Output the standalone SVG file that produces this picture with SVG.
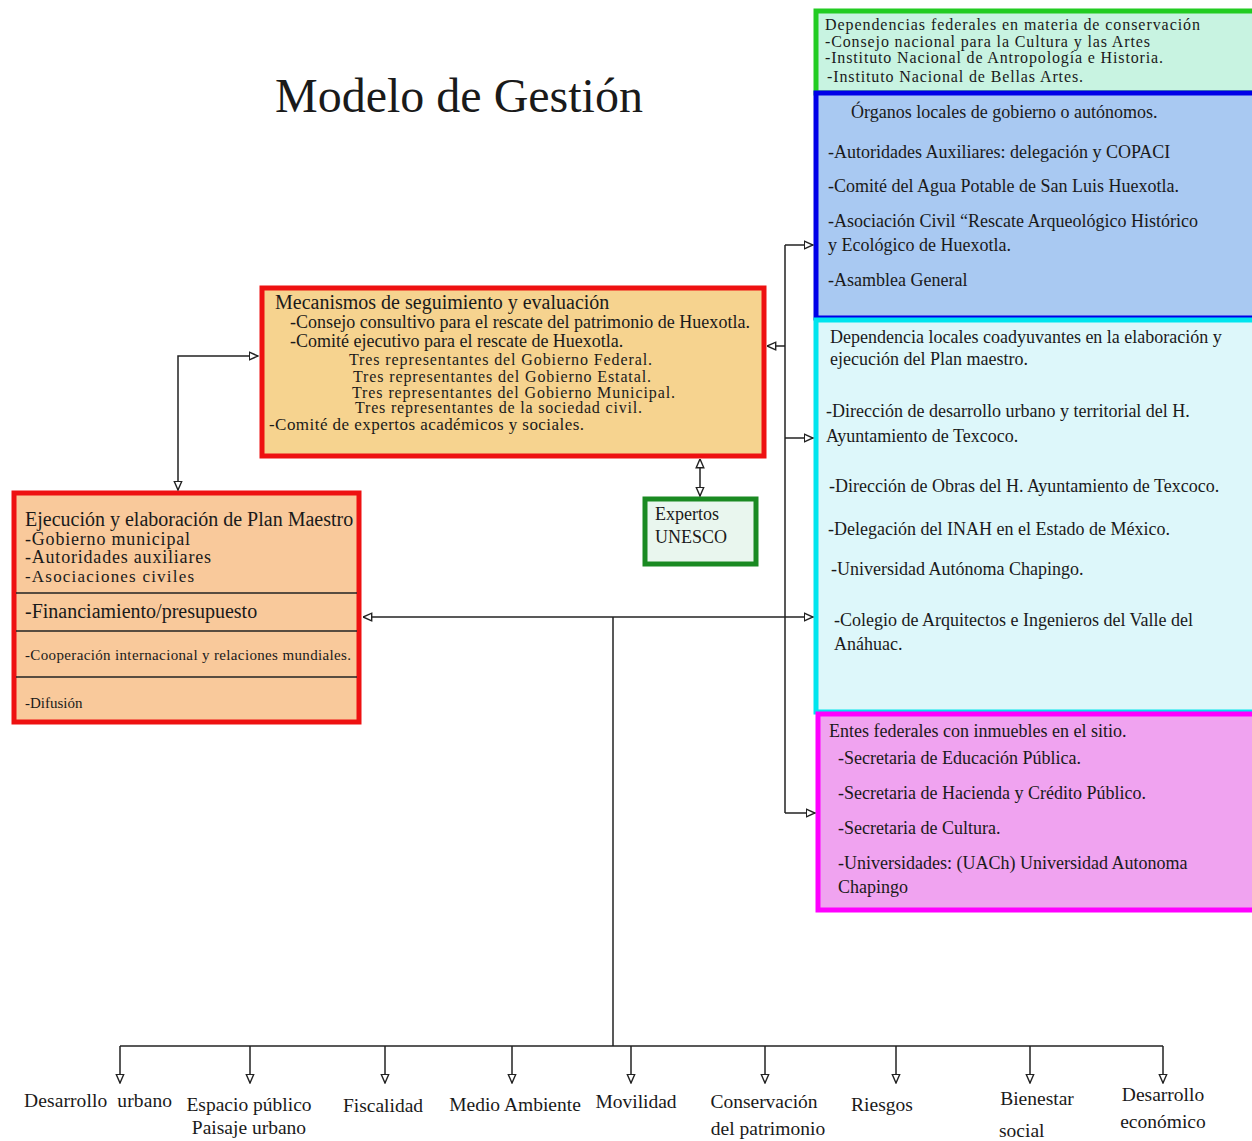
<svg xmlns="http://www.w3.org/2000/svg" width="1252" height="1141" viewBox="0 0 1252 1141">
<style>
text{font-family:"Liberation Serif","Times New Roman",serif;fill:#1a1a1a}
.t16{font-size:16px}
.t17{font-size:17px}
.t18{font-size:18px}
.t20{font-size:20px}
.t15{font-size:15px}
.lbl{font-size:19.5px}
.c{fill:none;stroke:#222;stroke-width:1.5}
</style>
<defs>
<marker id="ah" viewBox="0 0 10 10" refX="9.5" refY="5" markerWidth="10" markerHeight="10" markerUnits="userSpaceOnUse" orient="auto-start-reverse">
<path d="M0.8,1.2 L9.5,5 L0.8,8.8 Z" fill="#fff" stroke="#222" stroke-width="1.4"/>
</marker>
</defs>
<rect width="1252" height="1141" fill="#fff"/>
<text x="275" y="112" style="font-size:48px">Modelo de Gestión</text>

<g id="federales">
<rect x="816" y="11" width="440" height="82" fill="#c8f3e1" stroke="#22cc22" stroke-width="5"/>
<text class="t16" x="825" y="30" textLength="375">Dependencias federales en materia de conservación</text>
<text class="t16" x="825" y="47" textLength="325">-Consejo nacional para la Cultura y las Artes</text>
<text class="t16" x="825" y="63" textLength="338">-Instituto Nacional de Antropología e Historia.</text>
<text class="t16" x="827" y="82" textLength="256">-Instituto Nacional de Bellas Artes.</text>
</g>

<g id="organos">
<rect x="816" y="93" width="440" height="225" fill="#a9c9f2" stroke="#0000e8" stroke-width="5"/>
<text class="t18" x="851" y="118">Órganos locales de gobierno o autónomos.</text>
<text class="t18" x="828" y="158">-Autoridades Auxiliares: delegación y COPACI</text>
<text class="t18" x="828" y="192">-Comité del Agua Potable de San Luis Huexotla.</text>
<text class="t18" x="828" y="227">-Asociación Civil “Rescate Arqueológico Histórico</text>
<text class="t18" x="828" y="251">y Ecológico de Huexotla.</text>
<text class="t18" x="828" y="286">-Asamblea General</text>
</g>

<g id="dependencias">
<rect x="816" y="320" width="440" height="392" fill="#ddf7fa" stroke="#00e5ee" stroke-width="5"/>
<text class="t18" x="830" y="343">Dependencia locales coadyuvantes en la elaboración y</text>
<text class="t18" x="830" y="365">ejecución del Plan maestro.</text>
<text class="t18" x="826" y="417">-Dirección de desarrollo urbano y territorial del H.</text>
<text class="t18" x="826" y="442">Ayuntamiento de Texcoco.</text>
<text class="t18" x="829" y="492">-Dirección de Obras del H. Ayuntamiento de Texcoco.</text>
<text class="t18" x="828" y="535">-Delegación del INAH en el Estado de México.</text>
<text class="t18" x="831" y="575">-Universidad Autónoma Chapingo.</text>
<text class="t18" x="834" y="626">-Colegio de Arquitectos e Ingenieros del Valle del</text>
<text class="t18" x="834" y="650">Anáhuac.</text>
</g>

<g id="entes">
<rect x="818" y="714" width="438" height="196" fill="#f0a3f0" stroke="#ff00ff" stroke-width="5"/>
<text class="t18" x="829" y="737">Entes federales con inmuebles en el sitio.</text>
<text class="t18" x="838" y="764">-Secretaria de Educación Pública.</text>
<text class="t18" x="838" y="799">-Secretaria de Hacienda y Crédito Público.</text>
<text class="t18" x="838" y="834">-Secretaria de Cultura.</text>
<text class="t18" x="838" y="869">-Universidades: (UACh) Universidad Autonoma</text>
<text class="t18" x="838" y="893">Chapingo</text>
</g>

<g id="mecanismos">
<rect x="262" y="288" width="502" height="168" fill="#f6d38f" stroke="#ee1111" stroke-width="5"/>
<text class="t20" x="275" y="309">Mecanismos de seguimiento y evaluación</text>
<text class="t18" x="290" y="328" textLength="460">-Consejo consultivo para el rescate del patrimonio de Huexotla.</text>
<text class="t18" x="290" y="347">-Comité ejecutivo para el rescate de Huexotla.</text>
<text class="t16" x="349" y="365" textLength="303">Tres representantes del Gobierno Federal.</text>
<text class="t16" x="353" y="382" textLength="298">Tres representantes del Gobierno Estatal.</text>
<text class="t16" x="352" y="398" textLength="323">Tres representantes del Gobierno Municipal.</text>
<text class="t16" x="355" y="413" textLength="287">Tres representantes de la sociedad civil.</text>
<text class="t17" x="269" y="430" textLength="315">-Comité de expertos académicos y sociales.</text>
</g>

<g id="plan">
<rect x="14" y="493" width="345" height="229" fill="#f9c99b" stroke="#ee1111" stroke-width="5"/>
<text class="t20" x="25" y="526">Ejecución y elaboración de Plan Maestro</text>
<text class="t18" x="25" y="545" textLength="165">-Gobierno municipal</text>
<text class="t18" x="25" y="563" textLength="186">-Autoridades auxiliares</text>
<text class="t17" x="25" y="582" textLength="169">-Asociaciones civiles</text>
<line x1="16" y1="593" x2="357" y2="593" stroke="#222" stroke-width="1.5"/>
<text class="t20" x="25" y="618">-Financiamiento/presupuesto</text>
<line x1="16" y1="631" x2="357" y2="631" stroke="#222" stroke-width="1.5"/>
<text class="t15" x="25" y="660" textLength="326">-Cooperación internacional y relaciones mundiales.</text>
<line x1="16" y1="677" x2="357" y2="677" stroke="#222" stroke-width="1.5"/>
<text class="t15" x="25" y="708">-Difusión</text>
</g>

<g id="unesco">
<rect x="645" y="499" width="111" height="65" fill="#e9f6ee" stroke="#1a8a22" stroke-width="5"/>
<text class="t18" x="655" y="520">Expertos</text>
<text class="t18" x="655" y="543">UNESCO</text>
</g>

<g id="connectors">
<path class="c" d="M178,490 V356 H258" marker-start="url(#ah)" marker-end="url(#ah)"/>
<path class="c" d="M700,459 V496" marker-start="url(#ah)" marker-end="url(#ah)"/>
<path class="c" d="M785,245 V813"/>
<path class="c" d="M785,245 H813" marker-end="url(#ah)"/>
<path class="c" d="M785,346 H767" marker-end="url(#ah)"/>
<path class="c" d="M785,438 H813" marker-end="url(#ah)"/>
<path class="c" d="M785,813 H815" marker-end="url(#ah)"/>
<path class="c" d="M613,617 H363" marker-end="url(#ah)"/>
<path class="c" d="M613,617 H813" marker-end="url(#ah)"/>
<path class="c" d="M613,617 V1046"/>
<path class="c" d="M120,1046 H1163"/>
<path class="c" d="M120,1046 V1083" marker-end="url(#ah)"/>
<path class="c" d="M250,1046 V1083" marker-end="url(#ah)"/>
<path class="c" d="M385,1046 V1083" marker-end="url(#ah)"/>
<path class="c" d="M512,1046 V1083" marker-end="url(#ah)"/>
<path class="c" d="M631,1046 V1083" marker-end="url(#ah)"/>
<path class="c" d="M765,1046 V1083" marker-end="url(#ah)"/>
<path class="c" d="M896,1046 V1083" marker-end="url(#ah)"/>
<path class="c" d="M1030,1046 V1083" marker-end="url(#ah)"/>
<path class="c" d="M1163,1046 V1083" marker-end="url(#ah)"/>
</g>

<g id="labels">
<text class="lbl" x="24" y="1107" xml:space="preserve" textLength="148">Desarrollo  urbano</text>
<text class="lbl" x="249" y="1111" text-anchor="middle">Espacio público</text>
<text class="lbl" x="249" y="1134" text-anchor="middle">Paisaje urbano</text>
<text class="lbl" x="383" y="1112" text-anchor="middle">Fiscalidad</text>
<text class="lbl" x="515" y="1111" text-anchor="middle">Medio Ambiente</text>
<text class="lbl" x="636" y="1108" text-anchor="middle">Movilidad</text>
<text class="lbl" x="764" y="1108" text-anchor="middle">Conservación</text>
<text class="lbl" x="768" y="1135" text-anchor="middle">del patrimonio</text>
<text class="lbl" x="882" y="1111" text-anchor="middle">Riesgos</text>
<text class="lbl" x="1037" y="1105" text-anchor="middle">Bienestar</text>
<text class="lbl" x="999" y="1137">social</text>
<text class="lbl" x="1163" y="1101" text-anchor="middle">Desarrollo</text>
<text class="lbl" x="1163" y="1128" text-anchor="middle">económico</text>
</g>
</svg>
